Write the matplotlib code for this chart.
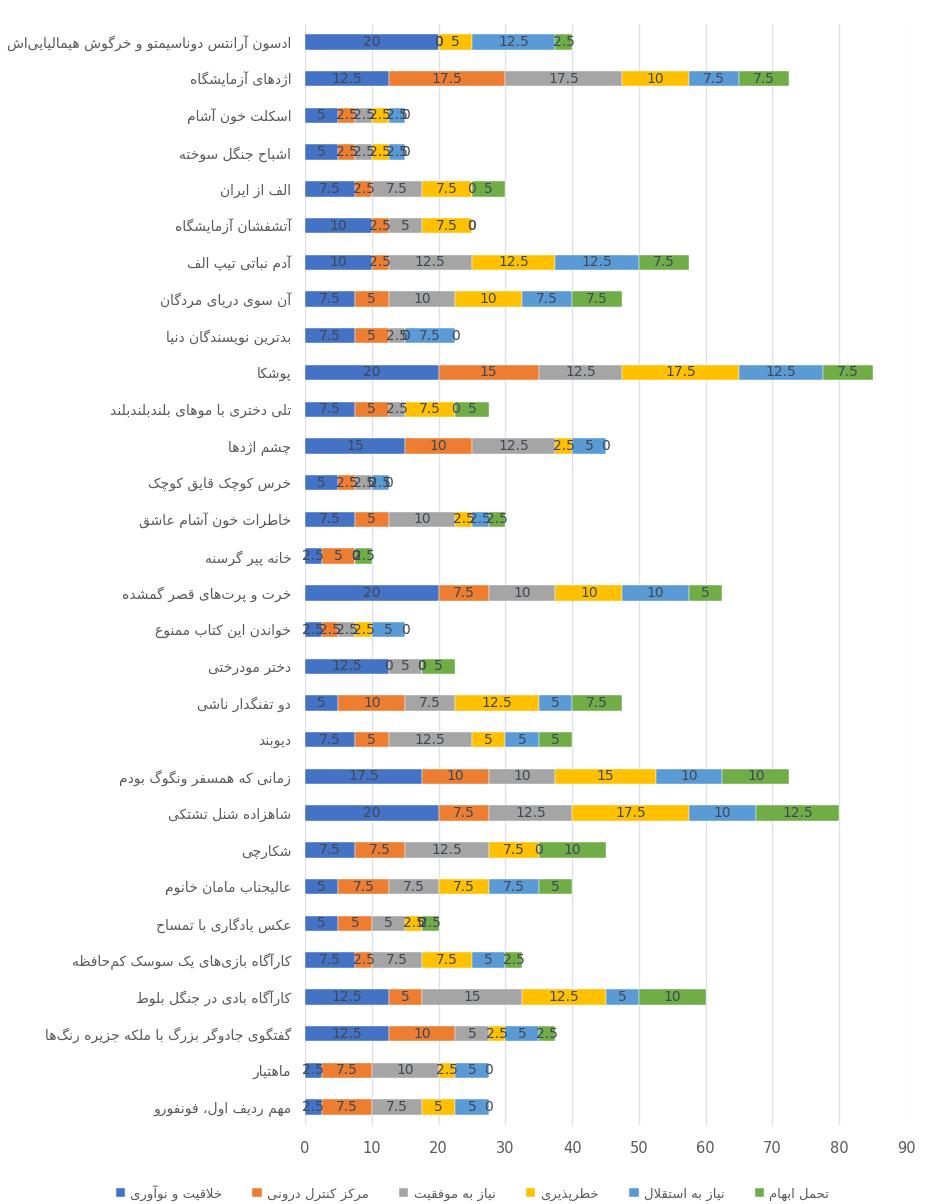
import numpy as np
import matplotlib
matplotlib.use("Agg")
import matplotlib.pyplot as plt

plt.rcParams['font.family'] = ['DejaVu Sans']

# ==============================
# داده‌ها (از بالا به پایین)
# ==============================
books = [
    "ادسون آرانتس دوناسیمتو و خرگوش هیمالیایی‌اش",
    "اژدهای آزمایشگاه",
    "اسکلت خون آشام",
    "اشباح جنگل سوخته",
    "الف از ایران",
    "آتشفشان آزمایشگاه",
    "آدم نباتی تیپ الف",
    "آن سوی دریای مردگان",
    "بدترین نویسندگان دنیا",
    "پوشکا",
    "تلی دختری با موهای بلندبلندبلند",
    "چشم اژدها",
    "خرس کوچک قایق کوچک",
    "خاطرات خون آشام عاشق",
    "خانه پیر گرسنه",
    "خرت و پرت‌های قصر گمشده",
    "خواندن این کتاب ممنوع",
    "دختر مودرختی",
    "دو تفنگدار ناشی",
    "دیوبند",
    "زمانی که همسفر ونگوگ بودم",
    "شاهزاده شنل تشتکی",
    "شکارچی",
    "عالیجناب مامان خانوم",
    "عکس یادگاری با تمساح",
    "کارآگاه بازی‌های یک سوسک کم‌حافظه",
    "کارآگاه بادی در جنگل بلوط",
    "گفتگوی جادوگر بزرگ با ملکه جزیره رنگ‌ها",
    "ماهتیار",
    "مهم ردیف اول، فونفورو",
]

series_names = ["خلاقیت و نوآوری", "مرکز کنترل درونی", "نیاز به موفقیت",
                "خطرپذیری", "نیاز به استقلال", "تحمل ابهام"]

creativity = [20, 12.5, 5, 5, 7.5, 10, 10, 7.5, 7.5, 20, 7.5, 15, 5, 7.5, 2.5,
              20, 2.5, 12.5, 5, 7.5, 17.5, 20, 7.5, 5, 5, 7.5, 12.5, 12.5, 2.5, 2.5]
locus = [0, 17.5, 2.5, 2.5, 2.5, 2.5, 2.5, 5, 5, 15, 5, 10, 2.5, 5, 5,
         7.5, 2.5, 0, 10, 5, 10, 7.5, 7.5, 7.5, 5, 2.5, 5, 10, 7.5, 7.5]
achievement = [0, 17.5, 2.5, 2.5, 7.5, 5, 12.5, 10, 2.5, 12.5, 2.5, 12.5, 2.5, 10, 0,
               10, 2.5, 5, 7.5, 12.5, 10, 12.5, 12.5, 7.5, 5, 7.5, 15, 5, 10, 7.5]
risk = [5, 10, 2.5, 2.5, 7.5, 7.5, 12.5, 10, 0, 17.5, 7.5, 2.5, 0, 2.5, 0,
        10, 2.5, 0, 12.5, 5, 15, 17.5, 7.5, 7.5, 2.5, 7.5, 12.5, 2.5, 2.5, 5]
independence = [12.5, 7.5, 2.5, 2.5, 0, 0, 12.5, 7.5, 7.5, 12.5, 0, 5, 2.5, 2.5, 0,
                10, 5, 0, 5, 5, 10, 10, 0, 7.5, 0, 5, 5, 5, 5, 5]
ambiguity = [2.5, 7.5, 0, 0, 5, 0, 7.5, 7.5, 0, 7.5, 5, 0, 0, 2.5, 2.5,
             5, 0, 5, 7.5, 5, 10, 12.5, 10, 5, 2.5, 2.5, 10, 2.5, 0, 0]

colors = ["#4472C4", "#ED7D31", "#A5A5A5", "#FFC000", "#5B9BD5", "#70AD47"]

# ==============================
# شکل‌دهی ساده حروف فارسی (بدون arabic_reshaper)
# ==============================
FORMS = {
    'ء': ('\uFE80', None, None, None),
    'آ': ('\uFE81', '\uFE82', None, None),
    'ا': ('\uFE8D', '\uFE8E', None, None),
    'ئ': ('\uFE89', '\uFE8A', '\uFE8B', '\uFE8C'),
    'ب': ('\uFE8F', '\uFE90', '\uFE91', '\uFE92'),
    'پ': ('\uFB56', '\uFB57', '\uFB58', '\uFB59'),
    'ت': ('\uFE95', '\uFE96', '\uFE97', '\uFE98'),
    'ث': ('\uFE99', '\uFE9A', '\uFE9B', '\uFE9C'),
    'ج': ('\uFE9D', '\uFE9E', '\uFE9F', '\uFEA0'),
    'چ': ('\uFB7A', '\uFB7B', '\uFB7C', '\uFB7D'),
    'ح': ('\uFEA1', '\uFEA2', '\uFEA3', '\uFEA4'),
    'خ': ('\uFEA5', '\uFEA6', '\uFEA7', '\uFEA8'),
    'د': ('\uFEA9', '\uFEAA', None, None),
    'ذ': ('\uFEAB', '\uFEAC', None, None),
    'ر': ('\uFEAD', '\uFEAE', None, None),
    'ز': ('\uFEAF', '\uFEB0', None, None),
    'ژ': ('\uFB8A', '\uFB8B', None, None),
    'س': ('\uFEB1', '\uFEB2', '\uFEB3', '\uFEB4'),
    'ش': ('\uFEB5', '\uFEB6', '\uFEB7', '\uFEB8'),
    'ص': ('\uFEB9', '\uFEBA', '\uFEBB', '\uFEBC'),
    'ض': ('\uFEBD', '\uFEBE', '\uFEBF', '\uFEC0'),
    'ط': ('\uFEC1', '\uFEC2', '\uFEC3', '\uFEC4'),
    'ظ': ('\uFEC5', '\uFEC6', '\uFEC7', '\uFEC8'),
    'ع': ('\uFEC9', '\uFECA', '\uFECB', '\uFECC'),
    'غ': ('\uFECD', '\uFECE', '\uFECF', '\uFED0'),
    'ف': ('\uFED1', '\uFED2', '\uFED3', '\uFED4'),
    'ق': ('\uFED5', '\uFED6', '\uFED7', '\uFED8'),
    'ک': ('\uFB8E', '\uFB8F', '\uFB90', '\uFB91'),
    'گ': ('\uFB92', '\uFB93', '\uFB94', '\uFB95'),
    'ل': ('\uFEDD', '\uFEDE', '\uFEDF', '\uFEE0'),
    'م': ('\uFEE1', '\uFEE2', '\uFEE3', '\uFEE4'),
    'ن': ('\uFEE5', '\uFEE6', '\uFEE7', '\uFEE8'),
    'ه': ('\uFEE9', '\uFEEA', '\uFEEB', '\uFEEC'),
    'و': ('\uFEED', '\uFEEE', None, None),
    'ی': ('\uFBFC', '\uFBFD', '\uFBFE', '\uFBFF'),
}
LAM_ALEF = {'ا': ('\uFEFB', '\uFEFC'), 'آ': ('\uFEF5', '\uFEF6')}


def _dual(c):
    return c in FORMS and FORMS[c][2] is not None


def _joins(c):
    return c in FORMS and FORMS[c][1] is not None


def fa(text):
    chars = list(text)
    n = len(chars)
    out = []
    i = 0
    while i < n:
        c = chars[i]
        if c == '\u200c':
            i += 1
            continue
        if c not in FORMS:
            out.append(c)
            i += 1
            continue
        prev = chars[i - 1] if i > 0 else ''
        jp = _dual(prev) and _joins(c)
        if c == 'ل' and i + 1 < n and chars[i + 1] in LAM_ALEF:
            lig = LAM_ALEF[chars[i + 1]]
            out.append(lig[1] if jp else lig[0])
            i += 2
            continue
        nxt = chars[i + 1] if i + 1 < n else ''
        jn = _dual(c) and _joins(nxt)
        iso, fin, ini, med = FORMS[c]
        if jp and jn:
            out.append(med)
        elif jp:
            out.append(fin)
        elif jn:
            out.append(ini)
        else:
            out.append(iso)
        i += 1
    return ''.join(reversed(out))


# ==============================
# رسم نمودار
# ==============================
fig = plt.figure(figsize=(9.28, 12.04), dpi=100)
ax = fig.add_axes([0.3287, 0.0653, 0.6476, 0.9151])

data = [creativity, locus, achievement, risk, independence, ambiguity]
y = np.arange(len(books))
left = np.zeros(len(books))

for vals, name, col in zip(data, series_names, colors):
    vals = np.array(vals, dtype=float)
    ax.barh(y, vals, left=left, height=0.42, color=col, label=fa(name),
            edgecolor='white', linewidth=0.3, zorder=2)
    for yi, (l, v) in enumerate(zip(left, vals)):
        ax.text(l + v / 2, yi, f"{v:g}", ha='center', va='center',
                fontsize=10, color='#404856', zorder=3)
    left += vals

ax.set_yticks(y)
ax.set_yticklabels([fa(b) for b in books], fontsize=10, color='#595959')
ax.set_ylim(len(books) - 0.5, -0.5)

ax.set_xlim(0, 90)
ax.set_xticks(np.arange(0, 91, 10))
ax.tick_params(axis='x', labelsize=10.5, colors='#595959', length=0, pad=11)
ax.tick_params(axis='y', length=0, pad=10)

ax.grid(axis='x', color='#DDE2EA', linewidth=1, zorder=0)
ax.set_axisbelow(True)
for spine in ax.spines.values():
    spine.set_visible(False)

fig.legend(loc='center', bbox_to_anchor=(0.509, 0.0095), ncol=6, frameon=False,
           fontsize=9.5, handlelength=0.7, handleheight=0.7, handletextpad=0.4,
           columnspacing=2.3, labelcolor='#595959')

fig.savefig("out.png", dpi=100)
